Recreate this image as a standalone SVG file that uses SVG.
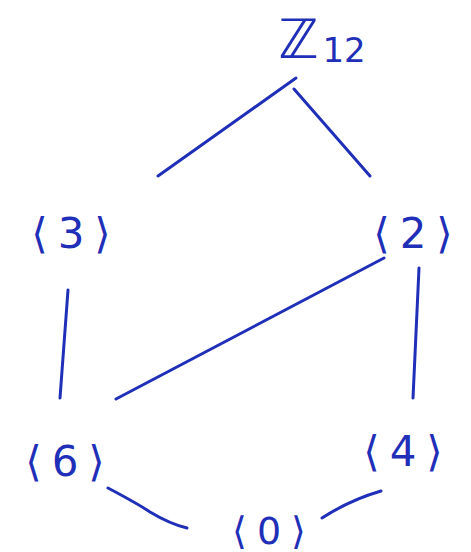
<svg xmlns="http://www.w3.org/2000/svg" width="471" height="552" viewBox="0 0 471 552">
<style>
.lbl{font-family:"DejaVu Sans","Noto Sans",sans-serif;fill:#1f2fb8;font-size:42px;text-anchor:middle;letter-spacing:10px}
.e{fill:none;stroke:#1f2fb8;stroke-width:3;stroke-linecap:round}
</style>
<rect width="471" height="552" fill="#ffffff"/>
<g id="connectors">
<path class="e" d="M296,78 L158,176"/>
<path class="e" d="M294,89 L370,176"/>
<path class="e" d="M68,290 L60,398"/>
<path class="e" d="M419,268 L413,398"/>
<path class="e" d="M384,258 L116,399"/>
<path class="e" d="M108,488 Q140,505 150,512 Q170,524 187,528"/>
<path class="e" d="M381,491 Q350,500 322,518"/>
</g>
<g id="Z12"><text class="lbl" x="322" y="58" style="letter-spacing:0;font-size:54px">ℤ<tspan font-size="34" dy="4" dx="4">12</tspan></text></g>
<g id="n3"><text class="lbl" x="76" y="248">⟨3⟩</text></g>
<g id="n2"><text class="lbl" x="418" y="248">⟨2⟩</text></g>
<g id="n6"><text class="lbl" x="70" y="476">⟨6⟩</text></g>
<g id="n4"><text class="lbl" x="408" y="466">⟨4⟩</text></g>
<g id="n0"><text class="lbl" x="274" y="544" style="font-size:38px">⟨0⟩</text></g>
</svg>
